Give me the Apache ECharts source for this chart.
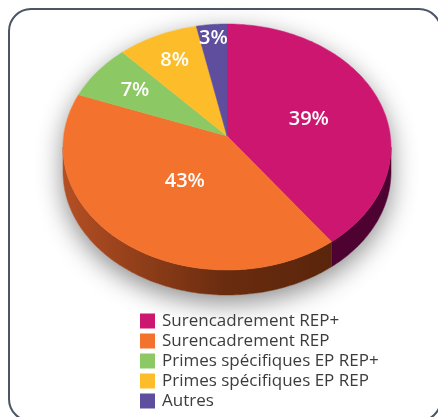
<!DOCTYPE html>
<html>
<head>
<meta charset="utf-8">
<script src="https://cdn.jsdelivr.net/npm/echarts@6/dist/echarts.min.js"></script>
<style>
  html, body { margin: 0; padding: 0; background: #fff; }
  #chart { width: 438px; height: 417px; }
</style>
</head>
<body>
<div id="chart"></div>
<script>
const categories = ['Surencadrement REP+', 'Surencadrement REP', 'Primes spécifiques EP REP+', 'Primes spécifiques EP REP', 'Autres']
const shares = [39, 43, 7, 8, 3]
const topColors = ['#cd1670', '#f3722d', '#8cc863', '#fdbd2a', '#5f4d9d']
const sideColors = ['#4d0231', '#5c260c', '#4a6e30', '#8a6410', '#33295a']

// fake 3d ellipse geometry
const CX = 227, CY = 147, RX = 164, RY = 123, AX = 227, AY = 136, DEPTH = 25
const LABEL_R = [0.53, 0.42, 0.71, 0.75, 0.88]
const total = shares.reduce((a, b) => a + b, 0)

const pt = (t, dy = 0) => [CX + RX * Math.sin(t), CY - RY * Math.cos(t) + dy]
function arc(a, b, dy = 0) {
  const n = Math.max(2, Math.ceil(Math.abs(b - a) / 0.02))
  const out = []
  for (let k = 0; k <= n; k++) out.push(pt(a + (b - a) * k / n, dy))
  return out
}

function renderSlice(i) {
  return function (params, api) {
    const v = api.value(0)
    const before = shares.slice(0, i).reduce((a, b) => a + b, 0)
    const t0 = before / total * Math.PI * 2
    const t1 = (before + v) / total * Math.PI * 2
    const children = []
    // visible side wall (front half)
    const a = Math.max(t0, Math.PI / 2), b = Math.min(t1, Math.PI * 1.5)
    if (b > a) {
      const side = arc(a, b).concat(arc(b, a, DEPTH))
      const fill = i === 1
        ? new echarts.graphic.LinearGradient(0, 0, 1, 0, [
            { offset: 0, color: '#b44f24' }, { offset: 0.6, color: '#6a2c0f' }, { offset: 1, color: '#5a250b' }
          ])
        : sideColors[i]
      children.push({ type: 'polygon', z2: 1, shape: { points: side }, style: { fill: fill, stroke: fill, lineWidth: 0.5 } })
    }
    children.push({
      type: 'polygon', z2: 10,
      shape: { points: [[AX, AY]].concat(arc(t0, t1)) },
      style: { fill: topColors[i], stroke: topColors[i], lineWidth: 0.5 }
    })
    const m = pt((t0 + t1) / 2)
    const f = LABEL_R[i]
    children.push({
      type: 'text', z2: 20,
      x: AX + (m[0] - AX) * f, y: AY + (m[1] - AY) * f,
      style: {
        text: Math.round(v / total * 100) + '%',
        fill: '#fff', font: '600 20px "Open Sans"', align: 'center', verticalAlign: 'middle'
      }
    })
    return { type: 'group', children }
  }
}

// silhouette for the soft drop shadow
const shadowPts = arc(-Math.PI / 2, Math.PI / 2).concat(arc(Math.PI / 2, Math.PI * 1.5, DEPTH))

const option = {
  animation: false,
  legend: {
    orient: 'vertical', left: 135, top: 307, height: 110,
    icon: 'rect', itemWidth: 15, itemHeight: 15, itemGap: 2,
    textStyle: { fontSize: 17, lineHeight: 18, color: '#3c3c3c', fontFamily: 'Open Sans', padding: [0, 0, 0, 2] },
    data: categories
  },
  graphic: [
    {
      type: 'polygon', z: 0,
      shape: { points: shadowPts },
      style: { fill: '#fff', shadowBlur: 26, shadowOffsetY: 8, shadowColor: 'rgba(0,0,0,0.45)' }
    },
    {
      type: 'rect', z: 0,
      shape: { x: 9, y: 9, width: 432, height: 412, r: 22 },
      style: { fill: 'none', stroke: '#4a5565', lineWidth: 2 }
    }
  ],
  series: categories.map((name, i) => ({
    name, type: 'custom', coordinateSystem: 'none',
    itemStyle: { color: topColors[i] },
    renderItem: renderSlice(i),
    data: [[shares[i]]]
  }))
}

const chart = echarts.init(document.getElementById('chart'))
chart.setOption(option)
</script>
</body>
</html>
